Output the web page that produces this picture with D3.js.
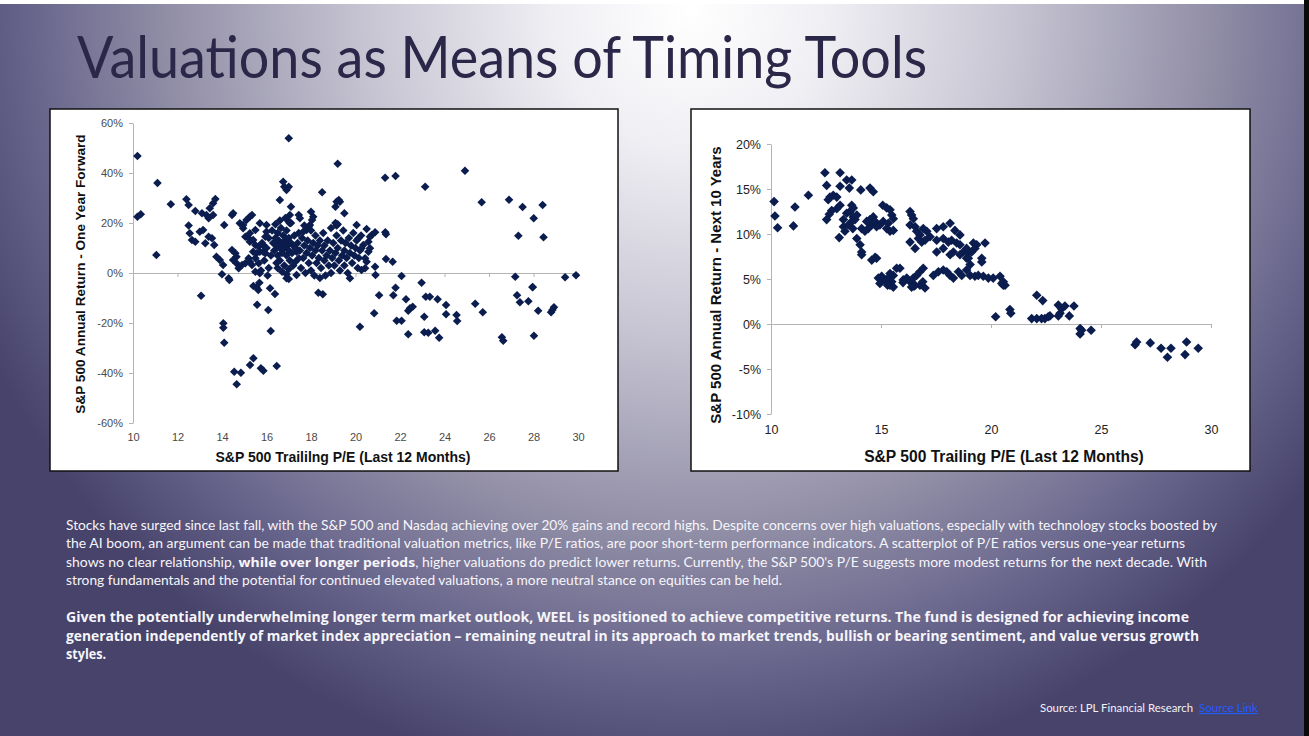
<!DOCTYPE html>
<html>
<head>
<meta charset="utf-8">
<script src="https://cdn.jsdelivr.net/npm/d3@7"></script>
<style>
  body { margin: 0; overflow: hidden; background: #47436a; }
  svg { display: block; }
</style>
</head>
<body>
<script>
const titleText = 'Valuations as Means of Timing Tools';

// left chart: trailing P/E vs one-year forward return (%)
const leftXTicks = [10, 12, 14, 16, 18, 20, 22, 24, 26, 28, 30];
const leftYTicks = [-60, -40, -20, 0, 20, 40, 60];
const leftXTitle = 'S&P 500 Traililng P/E (Last 12 Months)';
const leftYTitle = 'S&P 500 Annual Return - One Year Forward';
const oneYearPoints = [
  [10.2,46.8],[10.2,22.5],[10.35,23.5],[11.1,36],[11.05,7.2],[11.7,27.5],[12.4,29.5],[12.5,27.2],[12.8,24.8],
  [12.5,19],[12.55,15.9],[12.65,13.2],[12.8,12.5],[13.0,16.5],[13.15,17.2],[13.1,23.9],[13.3,23.2],[13.45,25.9],
  [13.6,27.9],[13.7,29.6],[13.4,21.9],[13.6,23.2],[13.25,11.9],[13.4,14.5],[13.55,13.9],[13.65,11.2],[13.75,6.5],
  [13.9,5.2],[14.05,3.2],[14.0,-0.5],[14.3,-2.1],[14.1,19.2],[14.45,23.2],[14.5,23.9],[14.45,9.2],[14.6,7.9],
  [14.65,6.5],[14.5,5.2],[14.65,3.9],[14.75,1.9],[14.9,3.2],[15.05,3.9],[15.2,5.9],[14.8,19.9],[14.95,19.2],
  [15.1,21.2],[15.25,22.5],[15.35,23.2],[15.05,14.5],[15.2,13.9],[15.25,12.5],[15.4,13.2],[15.5,11.2],[15.65,10.5],
  [14.95,17.9],[15.25,15.9],[15.5,17.2],[15.7,19.9],[15.4,8.5],[15.55,7.9],[15.7,8.5],[15.5,5.9],[15.25,4.5],
  [15.35,3.2],[15.65,3.9],[15.5,0.5],[15.7,-0.1],[15.85,11.2],[15.95,14.5],[16.0,16.5],[16.0,19.2],[15.85,8.5],
  [15.95,7.9],[16.6,29.2],[16.75,36.5],[16.8,34.5],[16.9,33.2],[17.0,34.5],[17.0,53.9],[17.1,26.5],[17.05,23.2],
  [17.0,20.5],[17.05,19.9],[16.9,-2.1],[17.0,-2.4],[17.35,-0.8],[17.3,4.5],[17.45,5.9],[17.35,8.5],[17.45,23.2],
  [17.5,21.9],[17.65,16.5],[17.8,17.2],[17.9,18.5],[17.95,19.2],[18.0,24.5],[18.05,21.2],[18.1,22.5],[18.5,32.3],
  [19.2,43.7],[19.1,26.5],[19.15,28.5],[19.25,29.2],[19.3,28.5],[19.5,23.9],[19.1,20],[19.15,19],[19.2,19.5],
  [19.75,-2.1],[20.05,19.2],[20.13,13.9],
  [15.8,12],[15.9,5],[16.0,10],[16.1,14],[16.1,2],[16.2,7],[16.25,17],[15.75,1],[16.05,-1],
  [16.3,12],[16.35,9],[16.4,14],[16.45,11],[16.5,7],[16.5,16],[16.55,13],[16.6,10],[16.6,5],[16.65,18],
  [16.7,12],[16.7,8],[16.75,15],[16.8,10],[16.8,3],[16.85,13],[16.9,7],[16.9,17],[16.95,11],[17.0,9],
  [17.0,14],[17.05,5],[17.1,12],[17.1,20],[17.15,8],[17.2,11],[17.25,15],[17.3,10],[16.4,19.5],[16.5,2],
  [16.7,0.5],[16.9,-0.5],[16.6,21],[16.85,22],[17.2,3],[17.0,1.5],[16.45,4],
  [17.4,12],[17.45,16],[17.5,9],[17.55,2],[17.6,14],[17.65,6],[17.7,11],[17.7,19],[17.75,0],[17.8,8],
  [17.85,13],[17.9,4],[17.95,10],[18.0,17],[18.0,1],[18.05,7],[18.1,12],[18.15,-1],[18.2,9],[18.2,15],
  [18.25,4],[18.3,11],[18.35,6],[18.4,13],[18.4,-2],[18.45,2],[18.5,9],[18.55,16],[18.6,5],[18.6,11],
  [18.65,-1],[18.7,7],[18.75,13],[18.8,3],[18.85,9],[18.9,18],[18.9,0],[18.95,6],
  [19.0,12],[19.05,3],[19.1,8],[19.15,15],[19.2,10],[19.25,5],[19.3,1],[19.35,13],[19.4,7],[19.45,17],
  [19.5,9],[19.5,3],[19.55,12],[19.6,6],[19.65,0],[19.7,14],[19.75,8],[19.8,11],[19.85,4],[19.9,16],
  [19.95,7],[20.0,10],[20.05,13],[20.1,2],[20.15,6],[20.2,9],[20.25,15],
  [21.33,38.1],[21.8,38.8],[23.13,34.5],[24.92,40.9],[25.67,28.3],[26.9,29.3],[27.51,26.4],[28.41,27.2],
  [28.01,21.9],[27.32,14.9],[28.45,14.3],[21.34,16.3],[21.37,15.5],[20.5,17.6],[20.88,16.3],[20.73,15.2],
  [20.65,14.5],[20.58,12.5],[20.35,11.2],[20.27,9.9],[20.65,9.9],[20.58,8.5],[20.43,5.9],[20.5,4.5],
  [20.27,1.2],[20.43,1.9],[20.88,2.5],[21.37,5.6],[21.67,4.5],[20.9,-0.8],[22.07,-1.2],[27.18,-1.5],
  [27.96,-5.6],[29.42,-1.7],[29.91,-0.9],
  [22.97,-3.9],[21.8,-5.9],[21.06,-8.9],[21.7,-8.9],[22.27,-10.5],[22.45,-14.1],[22.57,-13.5],[22.37,-15.1],
  [20.84,-16.1],[21.85,-19.1],[22.07,-19.1],[22.37,-24.5],[23.09,-17.5],[23.16,-9.5],[23.34,-9.5],[23.69,-10.5],
  [24.07,-12.8],[24.07,-16.5],[23.09,-23.7],[23.27,-23.9],[23.58,-23.1],[23.76,-25.9],[24.54,-16.8],[24.57,-19.2],
  [25.38,-12.3],[25.72,-15.7],[26.58,-25.7],[26.64,-27.1],[27.26,-8.9],[27.39,-11.7],[27.77,-11.3],[27.96,-5.7],
  [28.21,-15.1],[28.02,-25.1],[28.79,-15.7],[28.92,-13.7],[28.85,-14.8],
  [13.06,-9.1],[14.06,-20.1],[14.06,-21.9],[14.1,-27.9],[14.55,-39.5],[14.85,-39.9],[14.66,-44.5],[15.26,-36.8],
  [15.41,-34.1],[15.75,-38.1],[15.86,-39.1],[16.46,-37.2],[15.41,-5.2],[15.55,-5.7],[15.63,-6.8],[15.68,-3.9],
  [15.58,-12.7],[16.08,-14.8],[16.19,-23.2],[16.16,-6.1],[16.38,-8.4],[18.33,-7.9],[18.53,-8.5],[20.2,-21.5],
  [14.33,-2.8]
];

// right chart: trailing P/E vs annual return over next 10 years (%)
const rightXTicks = [10, 15, 20, 25, 30];
const rightYTicks = [-10, -5, 0, 5, 10, 15, 20];
const rightXTitle = 'S&P 500 Trailing P/E (Last 12 Months)';
const rightYTitle = 'S&P 500 Annual Return - Next 10 Years';
const tenYearPoints = [
  [10.14,13.6],[10.18,12.0],[10.3,10.7],[11.02,10.9],[11.09,13.0],[11.7,14.3],[12.45,16.8],[13.14,16.8],
  [12.53,15.4],[12.68,14.1],[12.83,14.3],[12.99,14.1],[12.6,13.8],[12.53,11.6],[12.76,12.6],[12.65,12.2],
  [12.99,12.8],[13.14,13.2],[13.14,15.3],[13.44,16.0],[13.67,16.0],[13.56,15.1],[13.1,9.6],
  [13.29,10.8],[13.36,10.3],[13.29,11.6],[13.44,12.3],[13.59,12.5],[13.74,11.9],[13.67,11.4],[13.51,11.0],
  [13.72,10.6],[13.82,11.6],[13.9,12.1],[13.67,13.2],[13.74,12.9],[14.35,11.4],[14.5,11.6],[14.65,11.9],
  [14.58,11.0],[14.73,11.4],[14.8,10.8],[14.42,10.6],[14.27,10.3],[14.12,10.6],[14.95,11.0],[15.1,11.4],
  [15.26,10.6],[15.41,10.3],[15.33,11.2],[15.56,10.4],[16.32,12.5],[16.39,12.1],[16.47,11.7],[16.32,11.0],
  [16.55,10.8],[16.62,10.3],[16.77,9.9],[16.92,10.6],[17.08,10.3],[17.23,9.7],[16.7,9.5],[16.85,9.1],
  [17.0,9.3],[16.55,8.4],[16.32,9.1],[17.53,10.6],[17.83,10.8],[18.14,11.2],[18.36,10.4],[18.59,9.9],
  [17.53,9.3],[17.83,9.5],[18.06,9.1],[18.21,9.3],[18.44,9.0],[18.59,8.8],[18.74,8.0],[18.89,8.4],
  [18.97,7.9],[18.59,7.7],[18.89,7.3],[18.14,7.7],[18.29,8.0],[17.83,8.4],[17.53,8.0],
  [14.08,14.9],[14.5,15.1],[14.65,14.7],[13.9,9.5],[14.05,8.8],[14.12,8.0],[14.12,7.7],[14.58,7.1],
  [14.73,7.4],[14.8,7.3],[15.08,13.2],[15.26,12.9],[15.41,12.7],[15.49,12.1],[15.56,11.7],
  [14.88,5.1],[15.03,5.3],[15.18,4.9],[15.33,5.1],[15.49,4.7],[15.56,5.4],[15.41,5.6],[15.86,6.2],
  [15.41,4.3],[15.56,4.1],[16.01,4.9],[16.17,5.1],[16.32,4.7],[16.47,5.1],[16.62,5.4],[16.77,5.8],
  [16.92,6.2],[16.55,4.3],[16.39,4.1],[16.77,4.3],[17.0,4.0],[17.38,5.4],[17.61,5.8],[17.83,6.0],
  [17.99,5.8],[18.14,5.4],[18.29,5.1],[18.52,5.8],[18.67,5.4],[18.89,6.0],[19.05,6.6],[18.97,7.3],
  [14.95,4.5],[15.3,4.3],[16.0,4.6],[16.5,4.2],[16.9,4.7],[15.71,6.2],
  [19.2,9.0],[19.35,8.8],[19.27,8.4],[19.12,8.0],[19.73,9.0],[19.58,7.3],[19.58,6.9],[19.05,5.4],
  [19.27,5.3],[19.42,5.4],[19.65,5.3],[19.88,5.1],[20.1,5.1],[20.41,5.3],[20.56,4.7],[20.56,4.3],
  [20.49,4.5],[20.64,4.3],[20.21,0.8],[20.86,1.6],[20.9,1.2],[22.08,3.2],[22.35,2.6],[21.85,0.6],
  [22.08,0.6],[22.3,0.6],[22.45,0.6],[22.6,0.8],[22.68,0.9],[23.06,2.1],[23.21,1.7],[23.36,2.0],
  [23.77,2.0],[23.14,1.2],[23.06,0.9],[23.56,0.9],[24.05,-0.5],[24.05,-1.1],[24.12,-0.7],[24.55,-0.7],
  [26.55,-2.3],[26.62,-2.0],[27.24,-2.1],[27.73,-2.7],[28.02,-3.7],[28.18,-2.7],[28.82,-3.4],[28.89,-2.0],
  [29.42,-2.7]
];

// commentary, one entry per rendered line; [text, bold] segments
const bodyLines = [
  [['Stocks have surged since last fall, with the S&P 500 and Nasdaq achieving over 20% gains and record highs. Despite concerns over high valuations, especially with technology stocks boosted by', false]],
  [['the AI boom, an argument can be made that traditional valuation metrics, like P/E ratios, are poor short-term performance indicators. A scatterplot of P/E ratios versus one-year returns', false]],
  [['shows no clear relationship, ', false], ['while over longer periods', true], [', higher valuations do predict lower returns. Currently, the S&P 500\'s P/E suggests more modest returns for the next decade. With', false]],
  [['strong fundamentals and the potential for continued elevated valuations, a more neutral stance on equities can be held.', false]]
];
const boldLines = [
  'Given the potentially underwhelming longer term market outlook, WEEL is positioned to achieve competitive returns.  The fund is designed for achieving income',
  'generation independently of market index appreciation \u2013 remaining neutral in its approach to market trends, bullish or bearing sentiment, and value versus growth',
  'styles.'
];
const sourceText = 'Source: LPL Financial Research';
const sourceLinkText = 'Source Link';

const W = 1309, H = 736;
const svg = d3.select('body').append('svg').attr('width', W).attr('height', H);

const defs = svg.append('defs');
const bg = defs.append('radialGradient').attr('id', 'bg')
  .attr('gradientUnits', 'userSpaceOnUse')
  .attr('cx', 690).attr('cy', 10).attr('r', 780);
[[0, '#ffffff'], [0.18, '#efeef3'], [0.42, '#c6c4d2'], [0.66, '#9390a8'], [0.86, '#65628a'], [1, '#47436a']]
  .forEach(s => bg.append('stop').attr('offset', s[0]).attr('stop-color', s[1]));

svg.append('rect').attr('width', W).attr('height', H).attr('fill', 'url(#bg)');
svg.append('rect').attr('width', W).attr('height', 4).attr('fill', '#ffffff');
svg.append('rect').attr('x', 1304).attr('width', 5).attr('height', H).attr('fill', '#0a0a0a');

svg.append('text')
  .attr('x', 77).attr('y', 78)
  .attr('font-family', 'Lato, sans-serif').attr('font-size', 58)
  .attr('fill', '#2b2748')
  .attr('textLength', 850).attr('lengthAdjust', 'spacingAndGlyphs')
  .text(titleText);

function drawChart(c) {
  const g = svg.append('g');
  g.append('rect')
    .attr('x', c.box[0]).attr('y', c.box[1]).attr('width', c.box[2]).attr('height', c.box[3])
    .attr('fill', '#ffffff').attr('stroke', '#111').attr('stroke-width', 1.5);

  const x = d3.scaleLinear().domain(c.xDomain).range(c.xRange);
  const y = d3.scaleLinear().domain(c.yDomain).range(c.yRange);

  // zero line with ticks
  g.append('g')
    .attr('transform', `translate(0,${y(0)})`)
    .call(d3.axisBottom(x).tickValues(c.xTicks).tickSize(4).tickSizeOuter(0).tickFormat(''))
    .call(a => a.selectAll('path,line').attr('stroke', '#b4b4b4'));

  // y axis
  g.append('g')
    .attr('transform', `translate(${x(c.xDomain[0])},0)`)
    .call(d3.axisLeft(y).tickValues(c.yTicks).tickSize(4).tickSizeOuter(0).tickPadding(6).tickFormat(d => d + '%'))
    .call(a => a.selectAll('path,line').attr('stroke', '#b4b4b4'))
    .call(a => a.selectAll('text').attr('font-family', 'Liberation Sans, Arial, sans-serif')
      .attr('font-size', c.tickSize).attr('fill', c.tickColor));

  // x labels along the bottom
  g.append('g')
    .attr('transform', `translate(0,${y(c.yDomain[0])})`)
    .call(d3.axisBottom(x).tickValues(c.xTicks).tickSize(0).tickPadding(c.xPad))
    .call(a => a.select('.domain').remove())
    .call(a => a.selectAll('text').attr('font-family', 'Liberation Sans, Arial, sans-serif')
      .attr('font-size', c.tickSize).attr('fill', c.tickColor));

  g.append('g').selectAll('path').data(c.points).join('path')
    .attr('transform', d => `translate(${x(d[0])},${y(d[1])})`)
    .attr('d', `M0,${-c.r}L${c.r},0L0,${c.r}L${-c.r},0Z`)
    .attr('fill', '#0b1d4e');

  g.append('text')
    .attr('x', c.xTitlePos[0]).attr('y', c.xTitlePos[1])
    .attr('text-anchor', 'middle')
    .attr('font-family', 'Liberation Sans, Arial, sans-serif').attr('font-weight', 'bold')
    .attr('font-size', c.xTitleSize).attr('fill', '#111')
    .text(c.xTitle);

  g.append('text')
    .attr('transform', `translate(${c.yTitlePos[0]},${c.yTitlePos[1]}) rotate(-90)`)
    .attr('text-anchor', 'middle')
    .attr('font-family', 'Liberation Sans, Arial, sans-serif').attr('font-weight', 'bold')
    .attr('font-size', c.yTitleSize).attr('fill', '#111')
    .text(c.yTitle);
}

drawChart({
  box: [50, 109, 568, 362],
  xDomain: [10, 30], xRange: [133, 578],
  yDomain: [-60, 60], yRange: [423, 123],
  xTicks: leftXTicks, yTicks: leftYTicks,
  points: oneYearPoints, r: 4.3,
  tickSize: 11, tickColor: '#4a4a4a', xPad: 10,
  xTitle: leftXTitle, xTitleSize: 14, xTitlePos: [343, 462],
  yTitle: leftYTitle, yTitleSize: 13.6, yTitlePos: [85, 274]
});

drawChart({
  box: [691, 109, 559, 362],
  xDomain: [10, 30], xRange: [771, 1211],
  yDomain: [-10, 20], yRange: [414, 144],
  xTicks: rightXTicks, yTicks: rightYTicks,
  points: tenYearPoints, r: 4.8,
  tickSize: 12.5, tickColor: '#222', xPad: 11,
  xTitle: rightXTitle, xTitleSize: 15.6, xTitlePos: [1004, 462],
  yTitle: rightYTitle, yTitleSize: 15, yTitlePos: [721, 285]
});

// commentary text
const bodyWidths = [1151, 1119, 1141, 716];
bodyLines.forEach((line, i) => {
  const t = svg.append('text')
    .attr('x', 66).attr('y', 530 + i * 18.3)
    .attr('font-family', 'Lato, sans-serif').attr('font-size', 13)
    .attr('fill', '#f6f5fa')
    .attr('textLength', bodyWidths[i]).attr('lengthAdjust', 'spacingAndGlyphs');
  line.forEach(seg => t.append('tspan')
    .attr('font-weight', seg[1] ? 'bold' : null)
    .attr('font-family', seg[1] ? 'Open Sans, sans-serif' : null)
    .text(seg[0]));
});

const boldWidths = [1123, 1133, 40];
boldLines.forEach((line, i) => {
  svg.append('text')
    .attr('x', 66).attr('y', 622 + i * 18.5)
    .attr('font-family', 'Open Sans, sans-serif').attr('font-size', 13.5).attr('font-weight', 'bold')
    .attr('fill', '#f6f5fa')
    .attr('textLength', boldWidths[i]).attr('lengthAdjust', 'spacingAndGlyphs')
    .text(line);
});

svg.append('text')
  .attr('x', 1040).attr('y', 712)
  .attr('font-family', 'Lato, sans-serif').attr('font-size', 11).attr('fill', '#f2f2f8')
  .attr('textLength', 153).attr('lengthAdjust', 'spacingAndGlyphs')
  .text(sourceText);
svg.append('text')
  .attr('x', 1199).attr('y', 712)
  .attr('font-family', 'Lato, sans-serif').attr('font-size', 11).attr('fill', '#1f5cff')
  .attr('text-decoration', 'underline')
  .attr('textLength', 59).attr('lengthAdjust', 'spacingAndGlyphs')
  .text(sourceLinkText);
</script>
</body>
</html>
